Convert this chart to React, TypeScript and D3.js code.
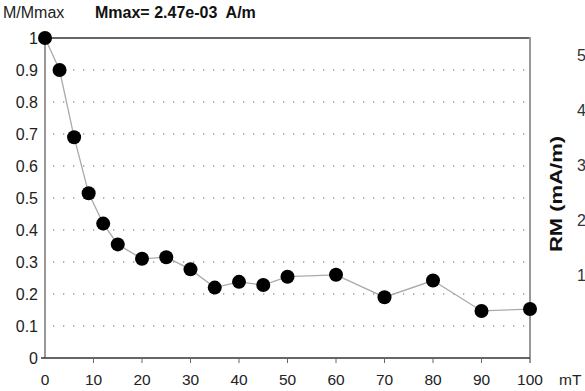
import { useRef, useEffect } from "react";
import * as d3 from "d3";

// demagnetisation steps (mT) and normalised remanence
const fields = [0, 3, 6, 9, 12, 15, 20, 25, 30, 35, 40, 45, 50, 60, 70, 80, 90, 100];
const ratios = [1.0, 0.9, 0.69, 0.515, 0.42, 0.355, 0.31, 0.315, 0.277, 0.22, 0.238, 0.228, 0.254, 0.26, 0.19, 0.242, 0.147, 0.153];

const yTicks = [0, 0.1, 0.2, 0.3, 0.4, 0.5, 0.6, 0.7, 0.8, 0.9, 1];
const xTicks = [0, 10, 20, 30, 40, 50, 60, 70, 80, 90, 100];
// ticks of the neighbouring chart that is cut off on the right
const rmTicks = [1, 2, 3, 4, 5];

const font = "'Liberation Sans', Arial, sans-serif";

export default function App() {
  const svgRef = useRef<SVGSVGElement>(null);

  useEffect(() => {
    const svg = d3.select(svgRef.current);
    svg.selectAll("*").remove();

    const left = 45, right = 530, top = 38, bottom = 358;

    const x = d3.scaleLinear().domain([0, 100]).range([left, right]);
    const y = d3.scaleLinear().domain([0, 1]).range([bottom, top]);
    const yRm = d3.scaleLinear().domain([0, 5]).range([330, 55]);

    // dotted gridlines
    svg.append("g")
      .selectAll("line")
      .data(yTicks.filter(d => d > 0 && d < 1))
      .join("line")
      .attr("x1", left + 8)
      .attr("x2", right - 2)
      .attr("y1", d => y(d))
      .attr("y2", d => y(d))
      .attr("stroke", "#999")
      .attr("stroke-width", 1.3)
      .attr("stroke-dasharray", "1.3,8.7");

    // frame
    svg.append("line")
      .attr("x1", left).attr("x2", right)
      .attr("y1", top).attr("y2", top)
      .attr("stroke", "#333").attr("stroke-width", 1.3);
    svg.append("line")
      .attr("x1", right).attr("x2", right)
      .attr("y1", top - 1).attr("y2", bottom + 5)
      .attr("stroke", "#999").attr("stroke-width", 2);
    svg.append("line")
      .attr("x1", left).attr("x2", left)
      .attr("y1", top).attr("y2", bottom)
      .attr("stroke", "#999").attr("stroke-width", 2);
    svg.append("line")
      .attr("x1", left - 4).attr("x2", right)
      .attr("y1", bottom).attr("y2", bottom)
      .attr("stroke", "#333").attr("stroke-width", 1.3);

    // x ticks
    svg.append("g")
      .selectAll("line")
      .data(xTicks.slice(1, -1))
      .join("line")
      .attr("x1", d => x(d)).attr("x2", d => x(d))
      .attr("y1", bottom).attr("y2", bottom + 5)
      .attr("stroke", "#666").attr("stroke-width", 1);

    svg.append("g")
      .selectAll("text")
      .data(xTicks)
      .join("text")
      .attr("x", d => x(d))
      .attr("y", 385)
      .attr("text-anchor", "middle")
      .style("font-family", font)
      .style("font-size", "15.5px")
      .attr("fill", "#222")
      .text(d => d);

    svg.append("text")
      .attr("x", 559).attr("y", 385)
      .style("font-family", font)
      .style("font-size", "15.5px")
      .attr("fill", "#222")
      .text("mT");

    // y tick labels
    svg.append("g")
      .selectAll("text")
      .data(yTicks)
      .join("text")
      .attr("x", 38)
      .attr("y", d => y(d) + 6)
      .attr("text-anchor", "end")
      .style("font-family", font)
      .style("font-size", "16px")
      .attr("fill", "#222")
      .text(d => (d === 0 || d === 1 ? d : d.toFixed(1)));

    // header
    svg.append("text")
      .attr("x", 3).attr("y", 18)
      .style("font-family", font)
      .style("font-size", "16px")
      .attr("fill", "#222")
      .text("M/Mmax");
    svg.append("text")
      .attr("x", 95).attr("y", 18)
      .style("font-family", font)
      .style("font-size", "16px")
      .style("font-weight", "bold")
      .attr("fill", "#111")
      .attr("xml:space", "preserve")
      .text("Mmax= 2.47e-03  A/m");

    // curve
    const pts = fields.map((f, i) => [f, ratios[i]] as [number, number]);
    const line = d3.line<[number, number]>().x(d => x(d[0])).y(d => y(d[1]));
    svg.append("path")
      .attr("d", line(pts))
      .attr("fill", "none")
      .attr("stroke", "#aaa")
      .attr("stroke-width", 1.3);

    svg.append("g")
      .selectAll("circle")
      .data(pts)
      .join("circle")
      .attr("cx", d => x(d[0]))
      .attr("cy", d => y(d[1]))
      .attr("r", 7)
      .attr("fill", "#000");

    // cut-off neighbouring chart on the right
    svg.append("g")
      .selectAll("text")
      .data(rmTicks)
      .join("text")
      .attr("x", 577)
      .attr("y", d => yRm(d) + 6)
      .style("font-family", font)
      .style("font-size", "16px")
      .attr("fill", "#333")
      .text(d => d);

    svg.append("text")
      .attr("transform", "translate(562,194) rotate(-90)")
      .attr("text-anchor", "middle")
      .attr("textLength", 116)
      .attr("lengthAdjust", "spacingAndGlyphs")
      .style("font-family", font)
      .style("font-size", "17px")
      .style("font-weight", "bold")
      .attr("fill", "#111")
      .text("RM (mA/m)");
  }, []);

  return (
    <svg
      ref={svgRef}
      width={585}
      height={391}
      style={{ position: "absolute", left: 0, top: 0, background: "#fff" }}
    />
  );
}
